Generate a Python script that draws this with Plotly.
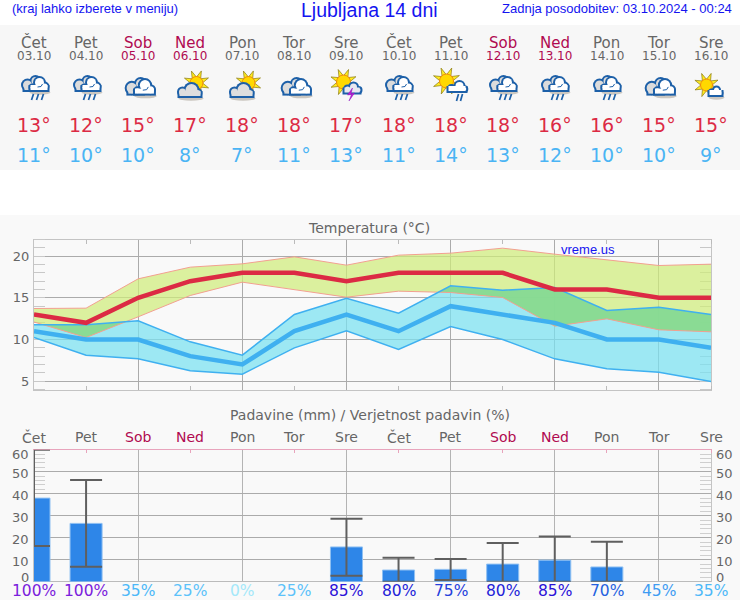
import math
import numpy as np
import plotly.graph_objects as go

W, H = 740, 600
day_names = ["Čet","Pet","Sob","Ned","Pon","Tor","Sre","Čet","Pet","Sob","Ned","Pon","Tor","Sre"]
dates = ["03.10","04.10","05.10","06.10","07.10","08.10","09.10","10.10","11.10","12.10","13.10","14.10","15.10","16.10"]
icon_kinds = ["rain","rain","cloud","suncloud","suncloud","cloud","storm","rain","sunrain","rain","rain","rain","cloud","sunny"]
t_max = [13,12,15,17,18,18,17,18,18,18,16,16,15,15]
t_min = [11,10,10,8,7,11,13,11,14,13,12,10,10,9]
max_upper = [13.72,13.76,17.28,18.68,19.08,19.92,18.92,20.12,20.36,20.96,20.24,19.56,18.88,19.04]
max_lower = [12.1,10.24,12.72,15.28,16.88,16.0,15.08,15.8,15.64,15.04,11.6,12.48,11.16,10.92]
min_upper = [11.76,11.76,12.24,9.72,8.12,13.0,14.96,13.16,16.44,15.92,16.24,13.48,13.88,13.0]
min_lower = [10.24,8.12,7.68,6.24,5.84,9.0,11.04,8.8,11.56,10.0,7.68,6.48,6.08,4.96]
rain = [38.0,26.5,0,0,0,0,15.8,5.3,5.6,8.0,9.8,6.7,0,0]
rain_hi = [60.0,46.2,0,0,0,0,28.6,10.9,10.3,17.6,20.5,18.2,0,0]
rain_lo = [16.2,6.8,0,0,0,0,2.7,0,0.8,0,0,0,0,0]
prob = [100,100,35,25,0,25,85,80,75,80,85,70,45,35]
prob_colors = {100:"#7a20dc",85:"#2a10d8",80:"#2222d8",75:"#2440dc",70:"#2462e0",45:"#3f9cf2",35:"#4cb8f8",25:"#5cc2fa",0:"#a4e8fa"}
temp_ticks = [5,10,15,20]
rain_ticks = [0,10,20,30,40,50,60]

days = list(range(14))
GREY = "#666666"
WEEKEND = "#b00a50"
DV = "DejaVu Sans"
LS = "Liberation Sans"
def name_color(n): return WEEKEND if n in ("Sob","Ned") else GREY

def fx(x): return x / W
def fy(y): return 1 - y / H

shapes = [
    dict(type="rect", xref="paper", yref="paper", x0=0, x1=1, y0=fy(170), y1=fy(25), fillcolor="#f7f7f7", line=dict(width=0), layer="below"),
    dict(type="rect", xref="paper", yref="paper", x0=0, x1=1, y0=0, y1=fy(215), fillcolor="#f9f9f9", line=dict(width=0), layer="below"),
]

def circ(x, y, r, fill, line=None, w=0, ry=None):
    ry = r if ry is None else ry
    shapes.append(dict(type="circle", xref="paper", yref="paper", x0=fx(x-r), x1=fx(x+r), y0=fy(y+ry), y1=fy(y-ry),
                       fillcolor=fill, line=dict(color=line or fill, width=w), layer="above"))

def poly(pts, fill=None, line=None, w=0, close=True):
    p = "M" + " L".join(f"{fx(a):.5f},{fy(b):.5f}" for a, b in pts) + (" Z" if close else "")
    d = dict(type="path", xref="paper", yref="paper", path=p, line=dict(color=line or "rgba(0,0,0,0)", width=w), layer="above")
    if fill: d["fillcolor"] = fill
    shapes.append(d)

OUT = "#1d60a8"
def cloud(parts, base, fill, shadow=True):
    x0, x1, yb = base
    if shadow:
        circ((x0+x1)/2+1, yb+1.5, (x1-x0)/2+1, "rgba(120,110,90,0.35)", ry=2.2)
    for (x, y, r) in parts:
        circ(x, y, r, OUT, OUT, 0)
    poly([(x0-1, yb-6), (x1+1, yb-6), (x1+1, yb+1), (x0-1, yb+1)], OUT)
    for (x, y, r) in parts:
        circ(x, y, r-2, fill)
    poly([(x0+1, yb-6), (x1-1, yb-6), (x1-1, yb-1), (x0+1, yb-1)], fill)

def sun(x, y, r, ray):
    for k in range(8):
        a = math.radians(22 + 45*k)
        b = a + math.pi/2
        tip = (x + math.cos(a)*(r+ray), y + math.sin(a)*(r+ray))
        p1 = (x + math.cos(a)*(r-1) + math.cos(b)*2.3, y + math.sin(a)*(r-1) + math.sin(b)*2.3)
        p2 = (x + math.cos(a)*(r-1) - math.cos(b)*2.3, y + math.sin(a)*(r-1) - math.sin(b)*2.3)
        poly([tip, p1, p2], "#ffec20", "#8a7a10", 0.7)
    circ(x, y, r, "#ffd800", "#f08a10", 1)

def drops(xs, y0, y1):
    for x in xs:
        poly([(x+1, y0), (x-1, y1)], None, OUT, 1.7, close=False)

def big_cloud(cx, dy=0, dx=0, s=1.0):
    c = cx + dx
    def P(x, y): return (c + x*s, 85 + dy + y*s)
    def C(x, y, r): return (c + x*s, 85 + dy + y*s, r*s)
    yb = 85 + dy + 6*s
    cloud([C(-7, 0, 6.5), C(1, -4, 6)], (c-11*s, c+4*s, yb), "#dcdcdc", shadow=False)
    cloud([C(5, -2.5, 6.5), C(10, 1.5, 5), C(-2, 2.5, 4)], (c-5*s, c+14*s, yb), "#ffffff", shadow=True)
    poly([P(3, 2), P(6.5, 1.5), P(8, -1)], None, OUT, 1, close=False)

def icon(kind, cx):
    if kind == "rain":
        big_cloud(cx)
        drops([cx-2, cx+3, cx+8], 94, 100)
    elif kind == "cloud":
        big_cloud(cx, dy=3, dx=1, s=1.1)
    elif kind == "suncloud":
        sun(cx+6, 83, 6.5, 6.5)
        cloud([(cx-8, 92, 5.5), (cx+1, 90, 8), (cx+7, 93, 5)], (cx-12, cx+11, 97), "#dedede")
    elif kind == "storm":
        sun(cx-3, 82, 7, 6.5)
        cloud([(cx+1, 89, 4.5), (cx+7, 87, 5.5), (cx+12, 90, 4)], (cx-3, cx+14, 93.5), "#e8e8f0", shadow=False)
        poly([(cx+6, 88), (cx+1, 95), (cx+5, 94.5), (cx+2.5, 101), (cx+8, 93), (cx+4.5, 93.5)], "#c01cd0", "#8a18c0", 0.5)
    elif kind == "sunrain":
        sun(cx-4, 81, 7, 7)
        cloud([(cx+1, 88, 4), (cx+9, 86, 6), (cx+14, 89, 3.8)], (cx-3, cx+16, 92), "#ffffff", shadow=False)
        drops([cx+7, cx+11], 94, 101)
    elif kind == "sunny":
        sun(cx-4, 85, 6, 6.5)
        cloud([(cx+1, 92, 3.5), (cx+6, 90, 4.5), (cx+10, 93, 3)], (cx-2, cx+12, 96), "#ffffff")

annotations = []
def label(text, x, y, size, color, family=DV, xref="paper", anchor="center", yshift=0):
    annotations.append(dict(text=text, x=x, y=y, xref=xref, yref="paper", xanchor=anchor, yanchor="middle", yshift=yshift,
                            showarrow=False, font=dict(size=size, color=color, family=family), borderpad=0, borderwidth=0))

def ylab(text, val, xpx, anchor, shift):
    annotations.append(dict(text=text, x=fx(xpx), y=val, xref="paper", yref="y2", xanchor=anchor, yanchor="middle", yshift=shift,
                            showarrow=False, font=dict(size=13, color=GREY, family=DV)))

label("(kraj lahko izberete v meniju)", fx(12), fy(8.5), 13, "#1414f0", LS, anchor="left")
label("Ljubljana 14 dni", fx(369), fy(10), 19.5, "#1414f0", LS)
label("Zadnja posodobitev: 03.10.2024 - 00:24", fx(732), fy(8.5), 13, "#1414f0", LS, anchor="right")
label("Temperatura (°C)", fx(369), fy(228), 14, GREY)
label("Padavine (mm) / Verjetnost padavin (%)", fx(370), fy(415), 14, GREY)
label("vreme.us", fx(561), fy(249), 13, "#1414f0", LS, anchor="left")

for d in days:
    cx = 34.5 + 52*d
    col = name_color(day_names[d])
    label(day_names[d], d, fy(43), 15, col, xref="x")
    label(dates[d], d, fy(56), 12, col if col == WEEKEND else "#666666", xref="x")
    label(f"{t_max[d]}°", d, fy(125), 19, "#dc2a44", xref="x")
    label(f"{t_min[d]}°", d, fy(155), 19, "#4ab4f4", xref="x")
    label(day_names[d], d, fy(437), 14, col, xref="x2")
    label(f"{prob[d]}%", d, fy(591), 15.5, prob_colors[prob[d]], xref="x2")
    icon(icon_kinds[d], cx)

shift_map = {60: -5, 0: 4}
for v in rain_ticks:
    s = shift_map.get(v, -1.5)
    ylab(str(v), v, 31, "right", s)
    ylab(str(v), v, 714, "left", s)

fig = go.Figure()
def band(up, lo, color):
    fig.add_trace(go.Scatter(x=days + days[::-1], y=up + lo[::-1], fill="toself", fillcolor=color, mode="none", hoverinfo="skip", xaxis="x", yaxis="y"))
band(max_upper, max_lower, "rgba(206,236,122,0.72)")
band(min_upper, min_lower, "rgba(124,225,240,0.74)")

grid = np.linspace(0, 13, 1301)
up = np.minimum(np.interp(grid, days, max_upper), np.interp(grid, days, min_upper))
lo = np.maximum(np.interp(grid, days, max_lower), np.interp(grid, days, min_lower))
mask = up > lo
edges = np.flatnonzero(np.diff(np.r_[0, mask.astype(int), 0]))
for a, b in zip(edges[::2], edges[1::2]):
    xs = grid[a:b]
    fig.add_trace(go.Scatter(x=np.r_[xs, xs[::-1]], y=np.r_[up[a:b], lo[a:b][::-1]], fill="toself",
                             fillcolor="rgba(134,216,128,0.78)", mode="none", hoverinfo="skip", xaxis="x", yaxis="y"))

def line(y, color, width):
    fig.add_trace(go.Scatter(x=days, y=y, mode="lines", line=dict(color=color, width=width), hoverinfo="skip", xaxis="x", yaxis="y"))
line(max_upper, "#f2a090", 1)
line(max_lower, "#f2a090", 1)
line(min_upper, "#3fb0f0", 1.5)
line(min_lower, "#3fb0f0", 1.5)
line(t_min, "#3fb0f0", 4.5)
line(t_max, "#dc2a44", 4.5)

wet = [d for d in days if rain[d] > 0]
fig.add_trace(go.Bar(x=wet, y=[rain[d] for d in wet], width=0.615, marker=dict(color="#2e86e8", line=dict(color="#8fc0f2", width=1)),
                     error_y=dict(type="data", symmetric=False, array=[rain_hi[d]-rain[d] for d in wet], arrayminus=[rain[d]-rain_lo[d] for d in wet],
                                  color="#5f5f5f", thickness=2, width=16),
                     hoverinfo="skip", xaxis="x2", yaxis="y2"))

GRID = "#ababab"
x_dom = [fx(34), fx(711)]
fig.update_layout(
    width=W, height=H, margin=dict(l=0, r=0, t=0, b=0), showlegend=False,
    paper_bgcolor="#ffffff", plot_bgcolor="#f9f9f9", barmode="overlay", shapes=shapes, annotations=annotations,
    xaxis=dict(domain=x_dom, range=[0, 13], tick0=0, dtick=2, showgrid=True, gridcolor=GRID, gridwidth=1, zeroline=False, showticklabels=False,
               ticks="", showline=True, linecolor="#c4c4c4", mirror="ticks", layer="below traces",
               minor=dict(dtick=1, ticks="inside", ticklen=4, tickcolor="#bbbbbb", showgrid=False)),
    yaxis=dict(domain=[fy(389.5), fy(239.5)], range=[4, 22], tickvals=temp_ticks, showgrid=True, gridcolor=GRID, gridwidth=1, zeroline=False,
               tickfont=dict(size=13, color=GREY, family=DV), ticks="", showline=True, linecolor="#c4c4c4", mirror="ticks",
               ticklabelstandoff=1, layer="below traces",
               minor=dict(dtick=1, tick0=0, ticks="inside", ticklen=11, tickcolor="#c8c8c8", showgrid=False)),
    xaxis2=dict(domain=x_dom, range=[0, 13], tick0=0, dtick=2, side="top", anchor="y2", showgrid=True, gridcolor="#b4b4b4", gridwidth=1, zeroline=False,
                showticklabels=False, ticks="", showline=True, linecolor="#e8a4bc", layer="below traces",
                minor=dict(dtick=1, ticks="inside", ticklen=3, tickcolor="#e8a4bc", showgrid=False)),
    yaxis2=dict(domain=[fy(581.7), fy(449.7)], range=[0, 60], tick0=0, dtick=10, anchor="x2", showgrid=True, gridcolor=GRID, gridwidth=1,
                zeroline=True, zerolinecolor="#bbbbbb", zerolinewidth=1, showticklabels=False, ticks="", showline=True, linecolor="#c4c4c4", mirror="ticks",
                layer="below traces",
                minor=dict(dtick=2, ticks="inside", ticklen=11, tickcolor="#cfcfcf", showgrid=False)),
)
fig.write_html("out.html", config=dict(displayModeBar=False),
               post_script="document.body.style.margin='0';document.documentElement.style.overflow='hidden';")
